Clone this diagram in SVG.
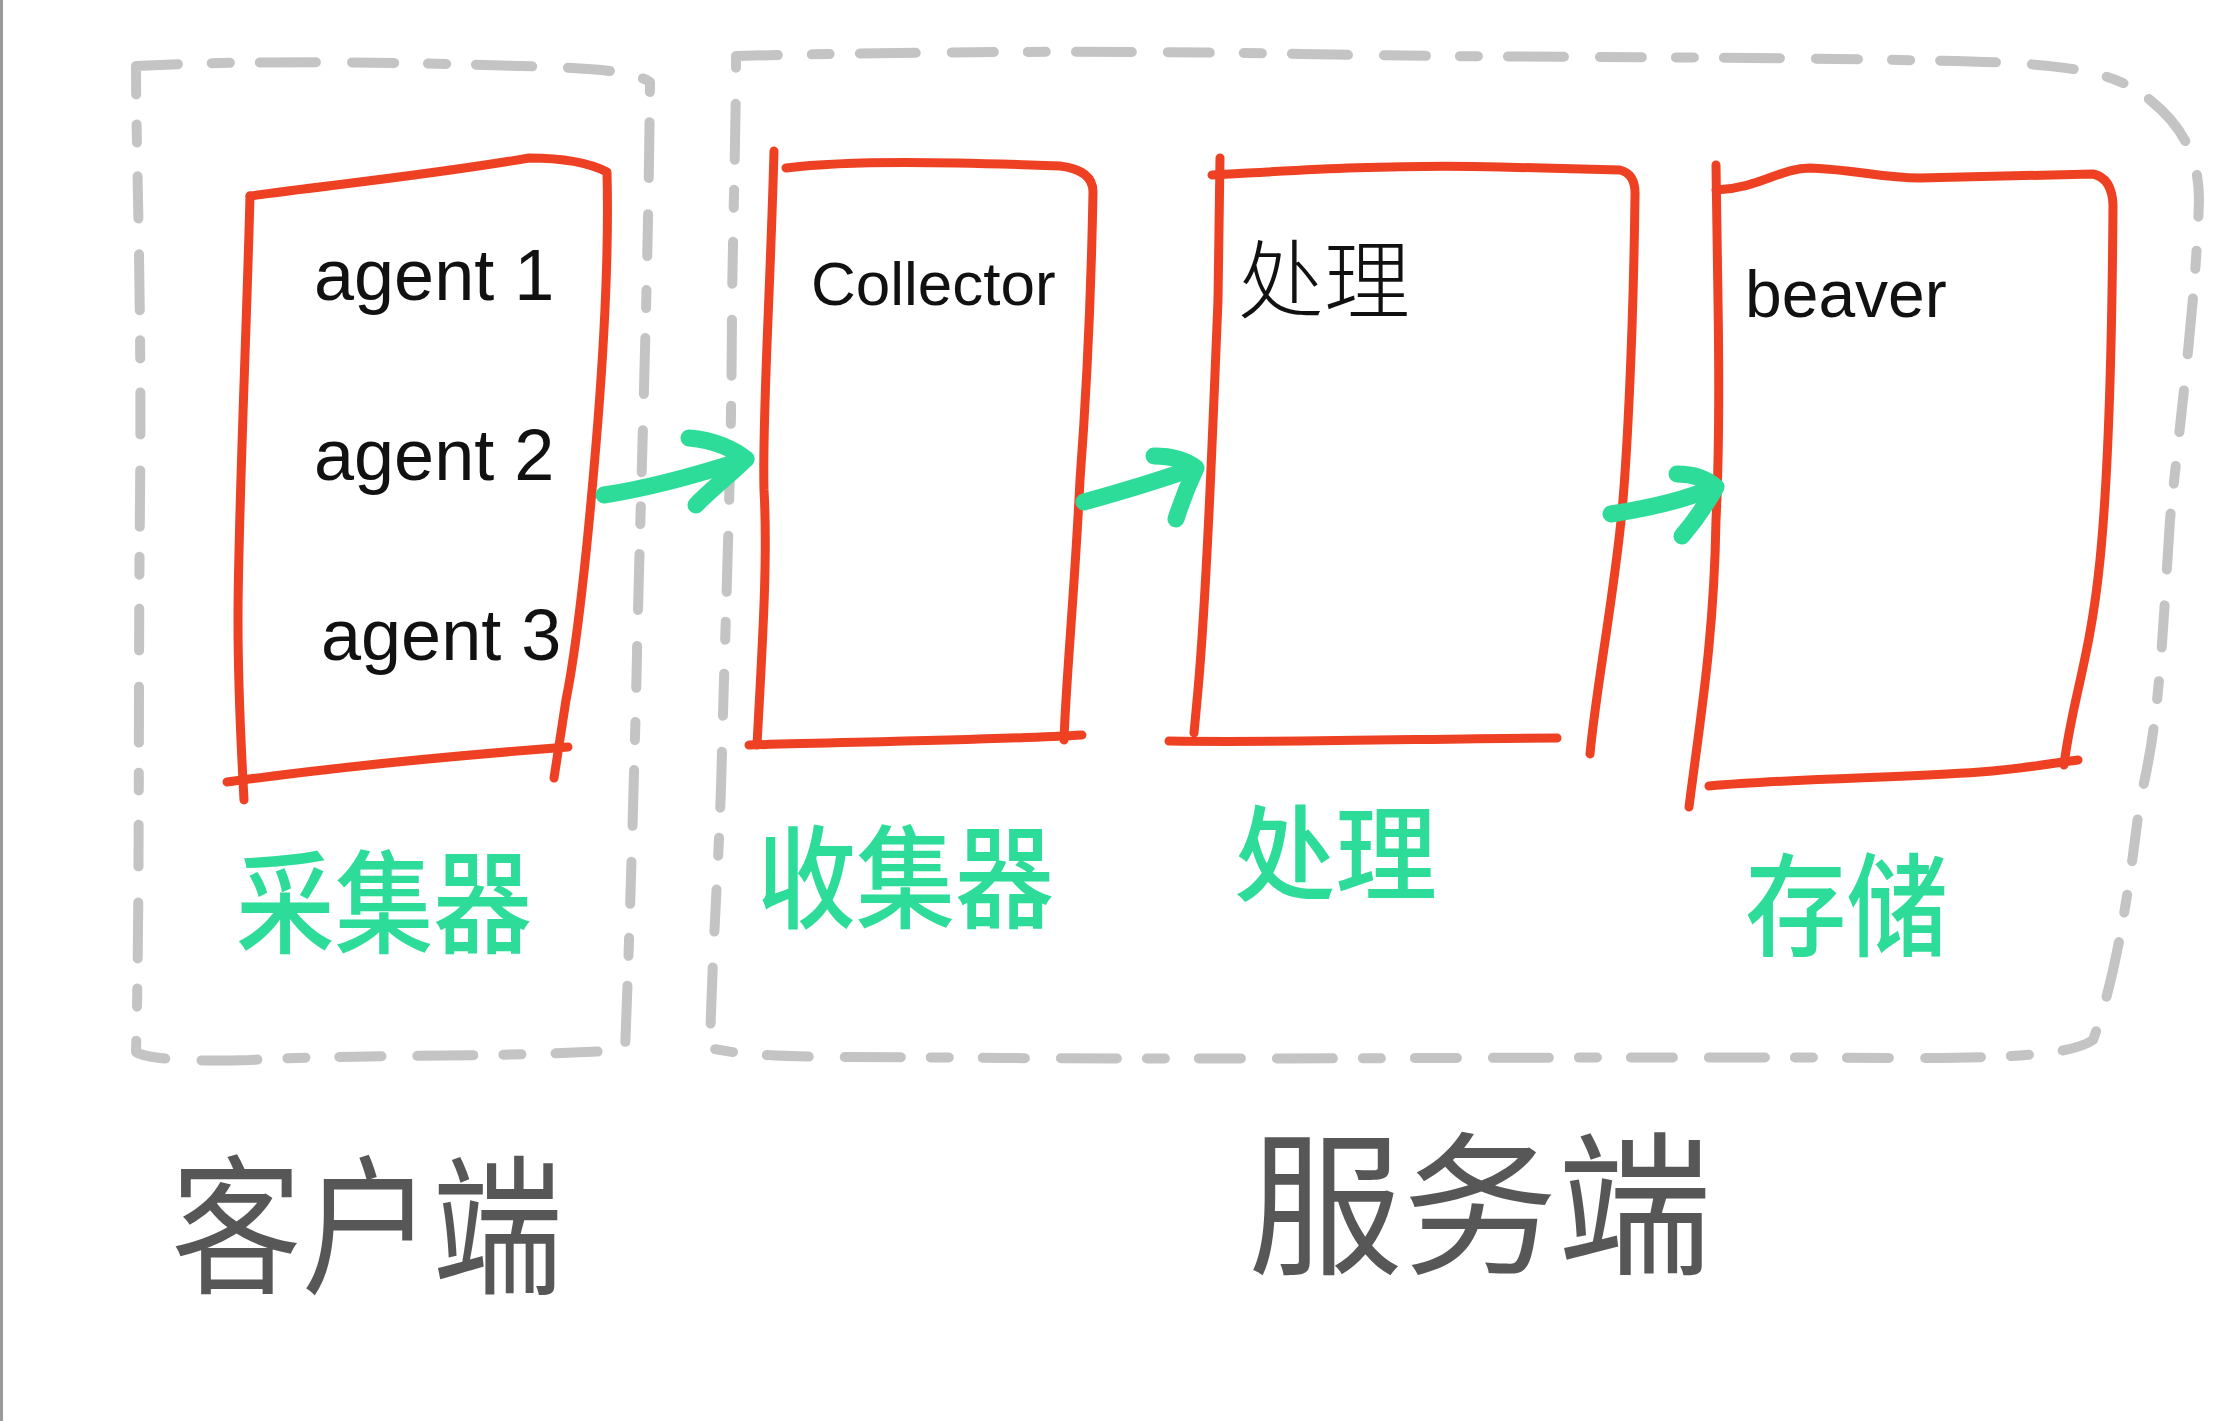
<svg xmlns="http://www.w3.org/2000/svg" width="2237" height="1421" viewBox="0 0 2237 1421">
<style>
.dash{fill:none;stroke:#C4C4C4;stroke-width:10;stroke-linecap:round;stroke-linejoin:round;stroke-dasharray:42 34 18 30 56 36}
.box{fill:none;stroke:#EE4123;stroke-width:9;stroke-linecap:round;stroke-linejoin:round}
.arrow{fill:none;stroke:#2EDC9A;stroke-width:17;stroke-linecap:round;stroke-linejoin:round}
.hand{font-family:"Liberation Sans","Noto Sans CJK SC",sans-serif;fill:#111}
.handcjk{font-family:"Noto Sans CJK SC",sans-serif;font-weight:300;fill:#111}
.green{font-family:"Noto Sans CJK SC",sans-serif;font-weight:500;fill:#2EDC9A}
.big{font-family:"Noto Sans CJK SC",sans-serif;font-weight:400;fill:#3A3A3A;fill-opacity:0.85}
</style>
<rect x="0" y="0" width="2237" height="1421" fill="#FFFFFF"/>
<line x1="1.5" y1="0" x2="1.5" y2="1421" stroke="#9A9A9A" stroke-width="3"/>

<g id="client-zone">
<path class="dash" d="M136,66 C250,60 400,62 520,66 C590,68 630,70 650,82 C648,300 640,500 636,700 C632,850 628,980 625,1050 C500,1058 350,1054 250,1060 C180,1062 145,1058 136,1052 C140,900 138,700 140,500 C142,300 136,150 136,66 Z"/>
</g>
<g id="server-zone">
<path class="dash" d="M736,56 C900,52 1100,50 1300,54 C1500,58 1700,56 1900,60 C2050,62 2110,66 2150,100 C2185,128 2199,160 2199,200 C2196,300 2180,420 2170,520 C2162,640 2160,720 2140,800 C2128,900 2115,980 2093,1040 C2070,1056 2000,1058 1900,1058 C1600,1056 1300,1060 1000,1058 C850,1056 760,1060 710,1048 C712,950 720,850 722,750 C726,600 732,450 732,300 C734,180 736,120 736,56 Z"/>
</g>

<g id="agents">
<path class="box" d="M250,196 C330,185 430,175 529,158 Q580,158 607,172 C609,250 605,330 598,420 C590,520 580,630 566,700 L554,778"/>
<path class="box" d="M227,782 C330,768 450,756 568,747"/>
<path class="box" d="M250,196 C246,350 238,520 238,620 C238,700 242,760 244,800"/>
<text class="hand" x="314" y="300" font-size="72">agent 1</text>
<text class="hand" x="314" y="480" font-size="72">agent 2</text>
<text class="hand" x="321" y="660" font-size="72">agent 3</text>
</g>

<g id="collector">
<path class="box" d="M774,151 C770,300 762,420 764,490 C768,560 762,650 757,745"/>
<path class="box" d="M786,168 C850,160 950,162 1060,166 Q1093,170 1093,192 C1091,300 1086,400 1080,480 C1074,600 1066,680 1064,740"/>
<path class="box" d="M749,745 C850,742 1000,740 1082,735"/>
<text class="hand" x="811" y="305" font-size="62">Collector</text>
</g>

<g id="processing">
<path class="box" d="M1220,158 L1218,300 C1212,450 1206,600 1198,690 L1194,733"/>
<path class="box" d="M1212,175 C1300,170 1400,164 1500,167 L1620,170 Q1636,174 1635,196 C1633,350 1626,480 1620,530 C1610,620 1596,690 1590,754"/>
<path class="box" d="M1169,741 C1300,743 1450,738 1557,738"/>
<text class="handcjk" x="1238" y="312" font-size="86">处理</text>
</g>

<g id="storage">
<path class="box" d="M1716,165 L1718,300 C1720,430 1718,480 1716,520 C1714,640 1700,720 1689,807"/>
<path class="box" d="M1716,190 C1760,188 1780,168 1810,168 C1860,170 1880,178 1920,178 L2093,174 Q2112,178 2113,205 C2112,350 2108,480 2100,560 C2090,660 2072,700 2064,765"/>
<path class="box" d="M1709,786 C1800,778 1900,778 1980,772 C2030,768 2060,762 2078,760"/>
<text class="hand" x="1745" y="317" font-size="66">beaver</text>
</g>

<g id="connectors">
<path class="arrow" d="M604,495 C650,488 700,474 746,459"/>
<path class="arrow" d="M689,438 C715,440 735,450 746,459 C730,475 710,490 696,505"/>
<path class="arrow" d="M1084,502 C1120,492 1160,480 1194,468"/>
<path class="arrow" d="M1154,456 C1172,456 1186,460 1196,468 C1188,485 1182,500 1176,519"/>
<path class="arrow" d="M1611,514 C1650,508 1690,498 1714,487"/>
<path class="arrow" d="M1677,474 C1695,474 1708,480 1716,487 C1706,505 1694,522 1682,536"/>
</g>

<g id="labels">
<text class="green" x="236" y="945" font-size="112" textLength="296" lengthAdjust="spacingAndGlyphs">采集器</text>
<text class="green" x="757" y="920" font-size="112" textLength="297" lengthAdjust="spacingAndGlyphs">收集器</text>
<text class="green" x="1234" y="893" font-size="104" textLength="203" lengthAdjust="spacingAndGlyphs">处理</text>
<text class="green" x="1745" y="948" font-size="112" textLength="203" lengthAdjust="spacingAndGlyphs">存储</text>
<text class="big" x="171" y="1282" font-size="150" textLength="392" lengthAdjust="spacingAndGlyphs">客户端</text>
<text class="big" x="1248" y="1262" font-size="155" textLength="464" lengthAdjust="spacingAndGlyphs">服务端</text>
</g>
</svg>
